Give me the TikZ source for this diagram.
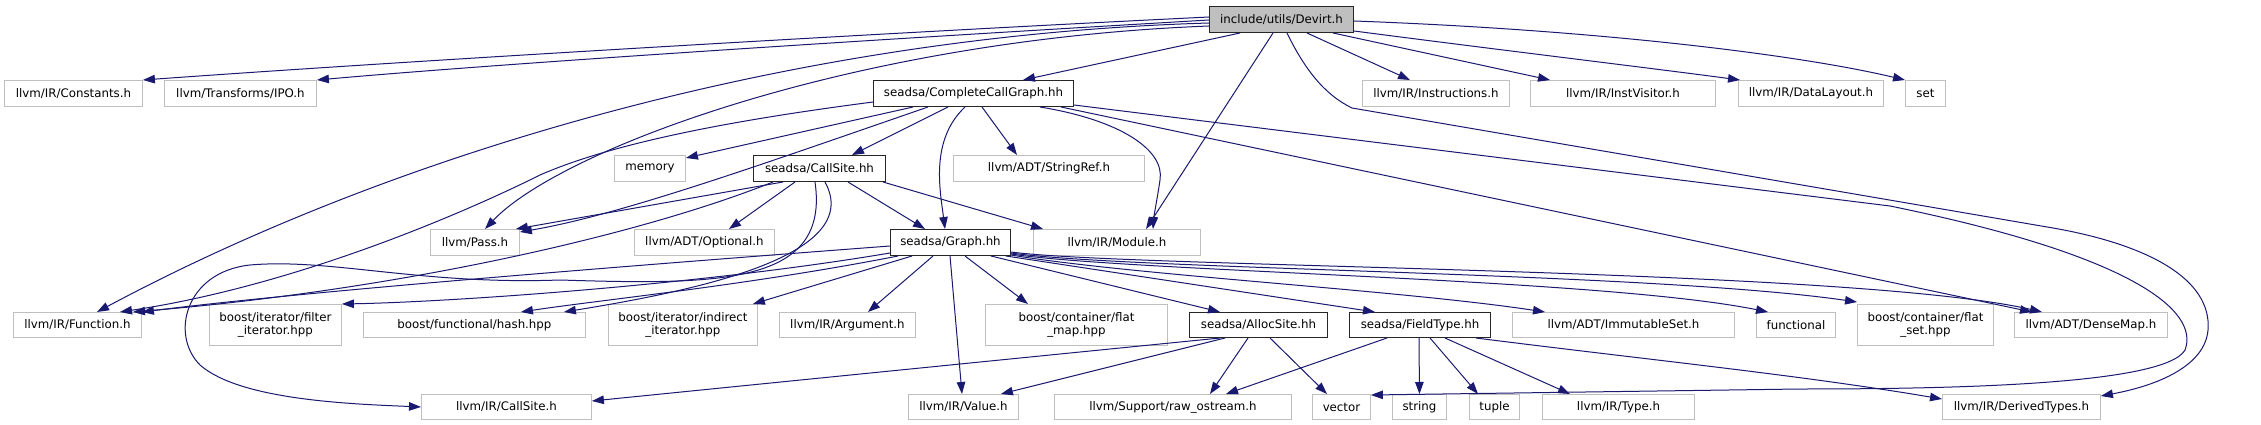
\documentclass[tikz,border=0pt]{standalone}
\usepackage{fontspec}
\setmainfont{DejaVu Sans}
\usetikzlibrary{arrows.meta,calc}
\definecolor{edgeblue}{HTML}{191970}
\definecolor{boxgray}{HTML}{BFBFBF}
\begin{document}
\begin{tikzpicture}[x=1pt,y=-1pt,
  font=\fontsize{11.8}{13.5}\selectfont,
  box/.style={draw=boxgray, line width=0.9pt, inner sep=0pt, anchor=north west,
              minimum height=26pt, align=center, text=black},
  boxs/.style={box, minimum height=25pt},
  boxd/.style={box, minimum height=41pt},
  doc/.style={draw=black!85, line width=1pt},
  edge/.style={draw=edgeblue, line width=1pt, -{Triangle[length=12pt,width=8.5pt]}}]
\path[fill=white] (0,0) rectangle (2261,425);

% row 0
\node[box, doc, fill=boxgray, minimum width=144pt] (devirt) at (1209,6) {include/utils/Devirt.h};
% row 1
\node[box, minimum width=138pt] (constants) at (4,80) {llvm/IR/Constants.h};
\node[box, minimum width=152pt] (ipo) at (164,80) {llvm/Transforms/IPO.h};
\node[box, doc, minimum width=200pt] (ccg) at (873,80) {seadsa/CompleteCallGraph.hh};
\node[box, minimum width=147pt] (instructions) at (1362,80) {llvm/IR/Instructions.h};
\node[box, minimum width=185pt] (instvisitor) at (1530,80) {llvm/IR/InstVisitor.h};
\node[box, minimum width=145pt] (datalayout) at (1738,80) {llvm/IR/DataLayout.h};
\node[box, minimum width=40pt] (set) at (1905,80) {set};
% row 2
\node[box, minimum width=71pt] (memory) at (614,155) {memory};
\node[box, doc, minimum width=132pt] (callsite) at (753,155) {seadsa/CallSite.hh};
\node[box, minimum width=191pt] (stringref) at (953,155) {llvm/ADT/StringRef.h};
% row 3
\node[box, minimum width=89pt] (pass) at (430,229) {llvm/Pass.h};
\node[box, minimum width=140pt] (optional) at (634,229) {llvm/ADT/Optional.h};
\node[box, doc, minimum width=120pt] (graph) at (890,229) {seadsa/Graph.hh};
\node[box, minimum width=167pt] (module) at (1033,229) {llvm/IR/Module.h};
% row 4
\node[boxs, minimum width=128pt] (function) at (13,312) {llvm/IR/Function.h};
\node[boxd, minimum width=132pt] (filter) at (209,304) {boost/iterator/filter\\\_iterator.hpp};
\node[boxs, minimum width=222pt] (hash) at (363,312) {boost/functional/hash.hpp};
\node[boxd, minimum width=149pt] (indirect) at (608,304) {boost/iterator/indirect\\\_iterator.hpp};
\node[boxs, minimum width=136pt] (argument) at (779,312) {llvm/IR/Argument.h};
\node[boxd, minimum width=182pt] (flatmap) at (985,304) {boost/container/flat\\\_map.hpp};
\node[boxs, doc, minimum width=138pt] (allocsite) at (1189,312) {seadsa/AllocSite.hh};
\node[boxs, doc, minimum width=141pt] (fieldtype) at (1349,312) {seadsa/FieldType.hh};
\node[boxs, minimum width=222pt] (immutable) at (1512,312) {llvm/ADT/ImmutableSet.h};
\node[boxs, minimum width=79pt] (functional) at (1756,312) {functional};
\node[boxd, minimum width=136pt] (flatset) at (1857,304) {boost/container/flat\\\_set.hpp};
\node[boxs, minimum width=153pt] (densemap) at (2014,312) {llvm/ADT/DenseMap.h};
% row 5
\node[boxs, minimum width=170pt] (callsiteh) at (421,394) {llvm/IR/CallSite.h};
\node[boxs, minimum width=110pt] (value) at (908,394) {llvm/IR/Value.h};
\node[boxs, minimum width=237pt] (rawostream) at (1054,394) {llvm/Support/raw\_ostream.h};
\node[boxs, minimum width=58pt] (vector) at (1312,394) {vector};
\node[boxs, minimum width=54pt] (string) at (1392,394) {string};
\node[boxs, minimum width=50pt] (tuple) at (1469,394) {tuple};
\node[boxs, minimum width=152pt] (type) at (1542,394) {llvm/IR/Type.h};
\node[boxs, minimum width=158pt] (derived) at (1942,394) {llvm/IR/DerivedTypes.h};

% Devirt.h
\draw[edge] ($(devirt.north west)+(0,11)$) .. controls (900,32) and (420,60) .. (constants.north east);
\draw[edge] ($(devirt.north west)+(0,14)$) .. controls (900,38) and (520,62) .. (ipo.north east);
\draw[edge] ($(devirt.south west)+(31,0)$) -- ($(ccg.north west)+(150,0)$);
\draw[edge] ($(devirt.north west)+(0,17)$) .. controls (800,35) and (400,150) .. ($(function.north west)+(84,0)$);
\draw[edge] ($(devirt.north west)+(0,20)$) .. controls (850,40) and (560,150) .. ($(pass.north west)+(55,0)$);
\draw[edge] ($(devirt.south west)+(64,0)$) -- ($(module.north west)+(113,0)$);
\draw[edge] ($(devirt.south west)+(98,0)$) -- ($(instructions.north west)+(48,0)$);
\draw[edge] ($(devirt.south west)+(124,0)$) -- ($(instvisitor.north west)+(20,0)$);
\draw[edge] ($(devirt.south east)+(0,-2)$) .. controls (1500,50) and (1650,68) .. ($(datalayout.north west)+(2,0)$);
\draw[edge] ($(devirt.north east)+(0,15)$) .. controls (1600,30) and (1800,55) .. (set.north west);
\draw[edge] ($(devirt.south west)+(78,0)$) .. controls (1305,70) and (1325,95) .. (1352,108)
  -- (2053,228) .. controls (2150,245) and (2212,280) .. (2208,330)
  .. controls (2205,365) and (2160,385) .. ($(derived.north east)+(0,2)$);

% CompleteCallGraph.hh
\draw[edge] ($(ccg.south west)+(40,0)$) -- ($(memory.north east)+(0,3)$);
\draw[edge] ($(ccg.north west)+(0,22)$) .. controls (750,118) and (620,140) .. (540,175)
  .. controls (470,210) and (300,285) .. ($(function.north west)+(107,0)$);
\draw[edge] ($(ccg.south west)+(75,0)$) -- ($(callsite.north west)+(99,0)$);
\draw[edge] ($(ccg.south west)+(109,0)$) -- ($(stringref.north west)+(64,0)$);
\draw[edge] ($(ccg.south west)+(92,0)$) .. controls (930,140) and (940,190) .. ($(graph.north west)+(55,0)$);
\draw[edge] ($(ccg.south west)+(167,0)$) .. controls (1120,120) and (1165,150) .. (1160,180)
  .. controls (1157,200) and (1154,215) .. ($(module.north west)+(120,0)$);
\draw[edge] ($(ccg.south west)+(55,0)$) .. controls (760,165) and (620,215) .. ($(pass.north east)+(0,3)$);
\draw[edge] ($(ccg.south east)+(-13,0)$) -- ($(densemap.north west)+(18,0)$);
\draw[edge] ($(ccg.south east)+(0,-2)$) -- (1890,206) .. controls (2130,255) and (2200,310) .. (2185,350)
  .. controls (2165,385) and (1950,389) .. (1800,389) -- ($(vector.north east)+(0,1)$);

% CallSite.hh
\draw[edge] ($(callsite.south west)+(30,0)$) -- ($(pass.north east)+(-4,0)$);
\draw[edge] ($(callsite.south west)+(20,0)$) .. controls (640,235) and (400,290) .. ($(function.north west)+(120,0)$);
\draw[edge] ($(callsite.south west)+(42,0)$) -- ($(optional.north west)+(95,0)$);
\draw[edge] ($(callsite.south west)+(95,0)$) -- ($(graph.north west)+(35,0)$);
\draw[edge] ($(callsite.south east)+(-3,0)$) -- ($(module.north west)+(10,0)$);
\draw[edge] ($(callsite.south west)+(62,0)$) .. controls (830,285) and (720,285) .. (560,280)
  .. controls (420,285) and (330,258) .. (250,265)
  .. controls (185,272) and (170,335) .. (200,365)
  .. controls (240,400) and (350,404) .. (callsiteh.west);
\draw[edge] ($(callsite.south west)+(72,0)$) .. controls (865,255) and (700,290) .. ($(hash.north east)+(-22,0)$);

% Graph.hh
\draw[edge] ($(graph.north west)+(0,17)$) .. controls (600,268) and (300,292) .. (function.north east);
\draw[edge] ($(graph.north west)+(0,24)$) .. controls (700,285) and (450,302) .. (filter.north east);
\draw[edge] ($(graph.south west)+(8,0)$) .. controls (750,285) and (600,300) .. ($(hash.north east)+(-65,0)$);
\draw[edge] ($(graph.south west)+(22,0)$) -- ($(indirect.north east)+(-5,0)$);
\draw[edge] ($(graph.south west)+(43,0)$) -- ($(argument.north west)+(89,0)$);
\draw[edge] ($(graph.south west)+(60,0)$) -- ($(value.north west)+(54,0)$);
\draw[edge] ($(graph.south west)+(75,0)$) -- ($(flatmap.north west)+(43,0)$);
\draw[edge] ($(graph.south east)+(-20,0)$) -- ($(allocsite.north west)+(31,0)$);
\draw[edge] ($(graph.south east)+(-5,0)$) -- ($(fieldtype.north west)+(26,0)$);
\draw[edge] ($(graph.south east)+(0,-1)$) .. controls (1130,275) and (1400,290) .. ($(immutable.north west)+(33,0)$);
\draw[edge] ($(graph.south east)+(0,-2)$) .. controls (1130,272) and (1600,278) .. ($(functional.north west)+(12,0)$);
\draw[edge] ($(graph.south east)+(0,-3)$) .. controls (1130,270) and (1650,272) .. ($(flatset.north west)+(0,-2)$);
\draw[edge] ($(graph.south east)+(0,-4)$) .. controls (1130,268) and (1850,268) .. ($(densemap.north west)+(28,0)$);

% AllocSite.hh
\draw[edge] ($(allocsite.south west)+(31,0)$) .. controls (1100,350) and (800,380) .. ($(callsiteh.north east)+(0,7)$);
\draw[edge] ($(allocsite.south west)+(36,0)$) -- ($(value.north east)+(-18,0)$);
\draw[edge] ($(allocsite.south west)+(59,0)$) -- ($(rawostream.north west)+(156,0)$);
\draw[edge] ($(allocsite.south west)+(81,0)$) -- ($(vector.north west)+(15,0)$);

% FieldType.hh
\draw[edge] ($(fieldtype.south west)+(38,0)$) -- ($(rawostream.north west)+(172,0)$);
\draw[edge] ($(fieldtype.south west)+(70,0)$) -- (string.north);
\draw[edge] ($(fieldtype.south west)+(81,0)$) -- ($(tuple.north west)+(9,0)$);
\draw[edge] ($(fieldtype.south west)+(96,0)$) -- ($(type.north west)+(28,0)$);
\draw[edge] ($(fieldtype.south east)+(-15,0)$) .. controls (1650,360) and (1800,375) .. ($(derived.north west)+(0,5)$);
\end{tikzpicture}
\end{document}
